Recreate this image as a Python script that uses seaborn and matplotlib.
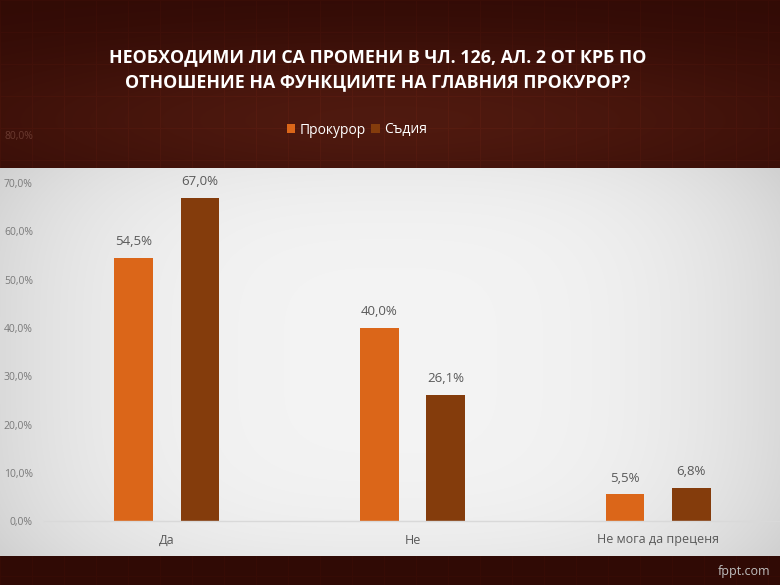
import numpy as np
import pandas as pd
import matplotlib
matplotlib.use("Agg")
import matplotlib.pyplot as plt
import seaborn as sns

# data
answers = ["Да", "Не", "Не мога да преценя"]
groups = ["Прокурор", "Съдия"]
prosecutor = [0.545, 0.400, 0.055]
judge = [0.670, 0.261, 0.068]
y_ticks = [0.0, 0.1, 0.2, 0.3, 0.4, 0.5, 0.6, 0.7, 0.8]
title = "НЕОБХОДИМИ ЛИ СА ПРОМЕНИ В ЧЛ. 126, АЛ. 2 ОТ КРБ ПО\nОТНОШЕНИЕ НА ФУНКЦИИТЕ НА ГЛАВНИЯ ПРОКУРОР?"
colors = ["#DB6619", "#843C0C"]

df = pd.DataFrame({
    "answer": answers * 2,
    "group": [groups[0]] * 3 + [groups[1]] * 3,
    "share": prosecutor + judge,
})

sns.set_theme(style="white")
plt.rcParams["font.family"] = ["Liberation Sans Narrow", "Open Sans", "DejaVu Sans"]

W, H = 780, 585
fig = plt.figure(figsize=(W / 100, H / 100), dpi=100)

# background: dark maroon with a soft glow behind the title, light panel for the plot
yy, xx = np.mgrid[0:H, 0:W]
glow = np.exp(-((yy - 120) / 80.0) ** 2) * np.exp(-((xx - 390) / 450.0) ** 2)
img = np.zeros((H, W, 3))
dark = np.array([0.19, 0.04, 0.02])
light = np.array([0.31, 0.10, 0.06])
img[:] = dark + (light - dark) * glow[..., None]
# faint grid texture
grid = ((xx % 32) == 0) | ((yy % 32) == 0)
img[grid] *= 1.12
panel = (yy >= 168) & (yy <= 555)
vign = 0.955 - 0.10 * (np.abs(xx - 390) / 390.0) ** 3 - 0.04 * (np.abs(yy - 360) / 195.0) ** 4
img[panel] = np.repeat(vign[panel][:, None], 3, axis=1)
bg = fig.add_axes([0, 0, 1, 1])
bg.imshow(np.clip(img, 0, 1), extent=[0, W, H, 0], aspect="auto")
bg.axis("off")

ax = fig.add_axes([44 / W, 1 - 521 / H, 737 / W, 386 / H])
ax.set_facecolor("none")
sns.barplot(data=df, x="answer", y="share", hue="group", hue_order=groups,
            palette=colors, width=0.54, gap=0.42, ax=ax, saturation=1,
            linewidth=0, edgecolor="none")

ax.set_ylim(0, 0.8)
ax.set_yticks(y_ticks)
ax.set_yticklabels([f"{t * 100:.1f}%".replace(".", ",") for t in y_ticks],
                   fontsize=7.5, color="#7a7a7a")
ax.get_yticklabels()[-1].set_color("#6a3a30")
ax.tick_params(axis="y", pad=8, length=0)
ax.tick_params(axis="x", pad=9, length=0, labelsize=9, labelcolor="#595959")
ax.set_xlabel("")
ax.set_ylabel("")
for s in ["top", "right", "left"]:
    ax.spines[s].set_visible(False)
ax.spines["bottom"].set_color("#d9d9d9")
ax.spines["bottom"].set_linewidth(1)

for cont in ax.containers:
    ax.bar_label(cont, labels=[f"{v * 100:.1f}%".replace(".", ",") for v in cont.datavalues],
                 padding=7, fontsize=9.5, color="#595959")

sns.move_legend(ax, loc="center", bbox_to_anchor=(357 / W, 1 - 130 / H),
                bbox_transform=fig.transFigure, ncol=2, frameon=False, title=None,
                fontsize=10, handlelength=0.6, handleheight=0.6,
                handletextpad=0.3, columnspacing=0.4)
for t in ax.get_legend().get_texts():
    t.set_color("white")

fig.text(378 / W, 1 - 70 / H, title, ha="center", va="center", color="white",
         fontsize=12.8, fontweight="bold", linespacing=1.5)
fig.text(770 / W, 1 - 571 / H, "fppt.com", ha="right", va="center",
         color="#bfbfbf", fontsize=9)

fig.savefig("out.png", dpi=100)
